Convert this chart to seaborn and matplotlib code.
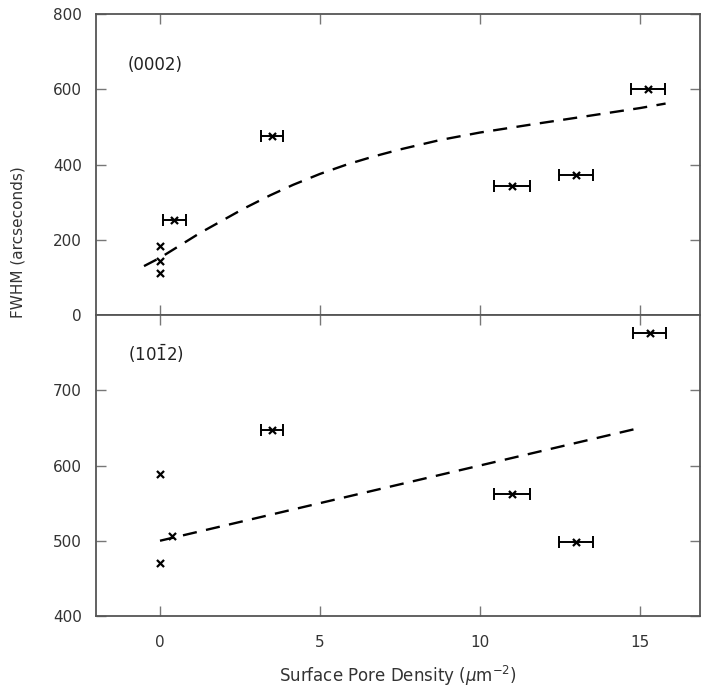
import numpy as np
import pandas as pd
import matplotlib
matplotlib.use("Agg")
import matplotlib.pyplot as plt
import seaborn as sns

# ---- data: (0002) panel ----
top_x = [0.0, 0.0, 0.0, 0.45, 3.5, 11.0, 13.0, 15.25]
top_y = [183, 143, 112, 253, 476, 343, 372, 601]
top_xerr = [0, 0, 0, 0.35, 0.33, 0.55, 0.53, 0.52]
top_fit_x = [-0.5, 0.0, 1.25, 2.6, 3.44, 4.16, 5.0, 5.84, 6.66, 7.5, 8.75, 10.0, 11.66, 13.3, 15.0, 15.8]
top_fit_y = [130, 152, 218, 282, 318, 346, 375, 400, 421, 440, 465, 485, 507, 528, 550, 562]

# ---- data: (10-12) panel ----
bot_x = [0.0, 0.0, 0.38, 3.5, 11.0, 13.0, 15.3]
bot_y = [589, 470, 506, 647, 562, 498, 776]
bot_xerr = [0, 0, 0, 0.33, 0.55, 0.53, 0.52]
bot_fit_x = [0.0, 15.0]
bot_fit_y = [500, 650]

top_ticks = [0, 200, 400, 600, 800]
bot_ticks = [400, 500, 600, 700]
x_ticks = [0, 5, 10, 15]

sns.set_style("ticks")
plt.rcParams['font.family'] = ['DejaVu Sans']

W, H = 701, 694
fig = plt.figure(figsize=(W / 100, H / 100), dpi=100)

left = 96 / W
right = 700 / W
ax1 = fig.add_axes([left, 1 - 315 / H, right - left, (315 - 14) / H])
ax2 = fig.add_axes([left, 1 - 616 / H, right - left, (616 - 315) / H])

spine_col = "#555555"

def style(ax):
    for s in ax.spines.values():
        s.set_color(spine_col)
        s.set_linewidth(1.3)
    ax.tick_params(direction="in", top=True, right=True, length=7,
                   width=1.0, color="#777777", labelsize=11, labelcolor="#333333")
    ax.tick_params(axis="y", pad=10)
    ax.tick_params(axis="x", pad=14)
    ax.set_xlim(-2, 16.875)
    ax.set_xticks(x_ticks)

def draw(ax, xs, ys, xerr, fx, fy):
    df = pd.DataFrame({"x": xs, "y": ys, "xerr": xerr})
    e = df[df.xerr > 0]
    ax.errorbar(e.x, e.y, xerr=e.xerr, fmt="none", ecolor="black",
                elinewidth=1.4, capsize=4, capthick=1.4)
    sns.scatterplot(data=df, x="x", y="y", marker="x", color="black",
                    s=26, linewidth=1.6, ax=ax, zorder=3)
    fit = pd.DataFrame({"x": fx, "y": fy})
    sns.lineplot(data=fit, x="x", y="y", color="black", lw=1.7, ax=ax,
                 dashes=False, linestyle=(0, (6, 4)))
    ax.set_xlabel("")
    ax.set_ylabel("")

draw(ax1, top_x, top_y, top_xerr, top_fit_x, top_fit_y)
draw(ax2, bot_x, bot_y, bot_xerr, bot_fit_x, bot_fit_y)

style(ax1)
style(ax2)

ax1.set_ylim(0, 800)
ax1.set_yticks(top_ticks)
ax1.tick_params(labelbottom=False)
ax2.set_ylim(400, 800)
ax2.set_yticks(bot_ticks)

ax1.text(-1.0, 665, "(0002)", fontsize=12, color="#222222", va="center", ha="left")
ax2.text(-1.0, 748, r"(10$\mathregular{\bar{1}}$2)", fontsize=12, color="#222222",
         va="center", ha="left")

ax2.set_xlabel(r"Surface Pore Density ($\mu$m$^{-2}$)", fontsize=12, color="#333333",
               labelpad=10)
fig.text(18 / W, 1 - 242 / H, "FWHM (arcseconds)", rotation=90, fontsize=11,
         color="#333333", ha="center", va="center")

fig.savefig("out.png", dpi=100)
